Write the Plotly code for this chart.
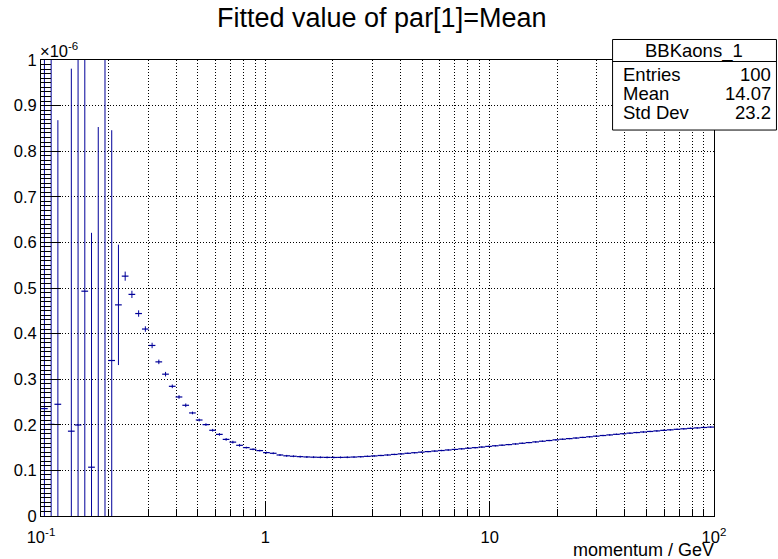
import numpy as np
import plotly.graph_objects as go

# ---- data (values in units of 1e-6) ----
bin_edges = np.logspace(-1, 2, 101)  # 100 log-spaced momentum bins, 0.1 .. 100 GeV

fit_mean = [
    0.2355, 0.201, 0.245, None, 0.186, 0.1996, 0.493, 0.107, -0.08, -0.25,
    0.341, 0.463, 0.526, 0.486, 0.444, 0.410, 0.374, 0.338, 0.311, 0.2844,
    0.261, 0.2428, 0.226, 0.2105, 0.2004, 0.188, 0.179, 0.168, 0.162, 0.155,
    0.150, 0.1463, 0.1434, 0.139, 0.1375, 0.1338, 0.1320, 0.1310, 0.1302, 0.1295,
    0.1290, 0.1287, 0.1285, 0.1284, 0.1285, 0.1288, 0.1293, 0.1300, 0.1308, 0.1317,
    0.1327, 0.1338, 0.1350, 0.1362, 0.1375, 0.1388, 0.1400, 0.1412, 0.1424, 0.1436,
    0.1448, 0.1460, 0.1473, 0.1486, 0.1499, 0.1512, 0.1526, 0.1540, 0.1553, 0.1566,
    0.1580, 0.1595, 0.1610, 0.1625, 0.1640, 0.1655, 0.1670, 0.1684, 0.1697, 0.1710,
    0.1723, 0.1737, 0.1751, 0.1765, 0.1778, 0.1791, 0.1804, 0.1817, 0.1830, 0.1842,
    0.1854, 0.1866, 0.1878, 0.1890, 0.1901, 0.1912, 0.1922, 0.1932, 0.1941, 0.1950,
]

fit_err = [
    1.6, 1.3, 0.623, None, 0.795, 1.1, 0.85, 0.514, 0.933, 1.4,
    0.505, 0.132, 0.010, 0.008, 0.007, 0.006, 0.006, 0.005, 0.005, 0.004,
    0.004, 0.004, 0.003, 0.003, 0.003, 0.003, 0.003, 0.003, 0.003, 0.003,
    0.002, 0.002, 0.002, 0.002, 0.002, 0.002, 0.002, 0.002, 0.002, 0.002,
    0.002, 0.002, 0.002, 0.002, 0.002, 0.002, 0.0015, 0.0015, 0.0015, 0.0015,
    0.0015, 0.0015, 0.0015, 0.0015, 0.0015, 0.0015, 0.0015, 0.0015, 0.0015, 0.0015,
    0.0015, 0.0015, 0.0015, 0.0015, 0.0015, 0.0015, 0.0015, 0.0015, 0.0015, 0.0015,
    0.0015, 0.0015, 0.0015, 0.0015, 0.0015, 0.0015, 0.0015, 0.0015, 0.0015, 0.0015,
    0.0015, 0.0015, 0.0015, 0.0015, 0.0015, 0.0015, 0.0015, 0.0015, 0.0015, 0.0015,
    0.0015, 0.0015, 0.0015, 0.0015, 0.0015, 0.0015, 0.0015, 0.0015, 0.0015, 0.0015,
]

x_tick_vals = [0.1, 1, 10, 100]
x_tick_text = ["10<sup>-1</sup>", "1", "10", "10<sup>2</sup>"]

stats_title = "BBKaons_1"
stats_labels = ["Entries", "Mean", "Std Dev"]
stats_values = ["100", "14.07", "23.2"]

# ---- layout geometry ----
W, H = 778, 559
ML, MR, MT, MB = 40.5, 64, 60, 43.3
PW, PH = W - ML - MR, H - MT - MB


def px(x):
    return (x - ML) / PW


def py(y):
    return (H - MB - y) / PH


lo = bin_edges[:-1]
hi = bin_edges[1:]
centers = (lo + hi) / 2
line_col = "#000099"
FONT = "Liberation Sans, Arial, Helvetica, sans-serif"

fig = go.Figure()
fig.add_trace(go.Scatter(
    x=centers, y=fit_mean, mode="markers",
    marker=dict(size=1, color=line_col),
    error_y=dict(type="data", array=fit_err, symmetric=True, width=0,
                 thickness=1, color=line_col),
    error_x=dict(type="data", array=list(hi - centers), arrayminus=list(centers - lo),
                 symmetric=False, width=0, thickness=1.2, color=line_col),
    showlegend=False, cliponaxis=True,
))

grid_dash = "1px,2px"
fig.update_layout(
    width=W, height=H,
    margin=dict(l=ML, r=MR, t=MT, b=MB, pad=0),
    paper_bgcolor="white", plot_bgcolor="white",
    font=dict(family=FONT, color="black", size=16),
    showlegend=False,
    xaxis=dict(
        type="log", range=[-1, 2],
        tickmode="array", tickvals=x_tick_vals, ticktext=x_tick_text,
        ticks="inside", ticklen=14, tickwidth=1, tickcolor="black",
        tickfont=dict(size=16.5, family=FONT),
        showline=True, linecolor="black", linewidth=1, mirror=True,
        showgrid=True, gridcolor="black", gridwidth=1, griddash=grid_dash,
        zeroline=False,
        ticklabelstandoff=6,
        minor=dict(ticks="inside", ticklen=7, tickwidth=1, tickcolor="black",
                   dtick="D1", showgrid=True, gridcolor="black", gridwidth=1,
                   griddash=grid_dash),
    ),
    yaxis=dict(
        range=[0, 1], tickmode="linear", tick0=0, dtick=0.1,
        ticks="inside", ticklen=20, tickwidth=1, tickcolor="black",
        tickfont=dict(size=16.5, family=FONT),
        showline=True, linecolor="black", linewidth=1, mirror=True,
        showgrid=True, gridcolor="black", gridwidth=1, griddash=grid_dash,
        zeroline=False,
        minor=dict(ticks="inside", ticklen=10, tickwidth=1, tickcolor="black",
                   dtick=0.01, showgrid=False),
    ),
)

ann = []
# title
ann.append(dict(text="Fitted value of par[1]=Mean", x=px(381), y=py(18),
                xref="paper", yref="paper", xanchor="center", yanchor="middle",
                showarrow=False, font=dict(size=27, family=FONT)))
# exponent label
ann.append(dict(text="×10<sup>-6</sup>", x=px(37), y=py(50),
                xref="paper", yref="paper", xanchor="left", yanchor="middle",
                showarrow=False, font=dict(size=16.5, family=FONT)))
# x-axis title
ann.append(dict(text="momentum / GeV", x=px(716), y=py(550),
                xref="paper", yref="paper", xanchor="right", yanchor="middle",
                showarrow=False, font=dict(size=18, family=FONT)))
# stats box text
ann.append(dict(text=stats_title, x=px(694), y=py(51),
                xref="paper", yref="paper", xanchor="center", yanchor="middle",
                showarrow=False, font=dict(size=18.5, family=FONT)))
row_y = [74, 93, 112]
for lab, val, yy in zip(stats_labels, stats_values, row_y):
    ann.append(dict(text=lab, x=px(621), y=py(yy), xref="paper", yref="paper",
                    xanchor="left", yanchor="middle", showarrow=False,
                    font=dict(size=18.5, family=FONT)))
    ann.append(dict(text=val, x=px(773), y=py(yy), xref="paper", yref="paper",
                    xanchor="right", yanchor="middle", showarrow=False,
                    font=dict(size=18.5, family=FONT)))
fig.update_layout(annotations=ann)

shapes = [
    dict(type="rect", xref="paper", yref="paper",
         x0=px(612.5), x1=px(776.5), y0=py(130), y1=py(39.5),
         line=dict(color="black", width=1), fillcolor="white", layer="above"),
    dict(type="line", xref="paper", yref="paper",
         x0=px(612.5), x1=px(776.5), y0=py(61.5), y1=py(61.5),
         line=dict(color="black", width=1), layer="above"),
]
fig.update_layout(shapes=shapes)

fig.write_html("out.html")
